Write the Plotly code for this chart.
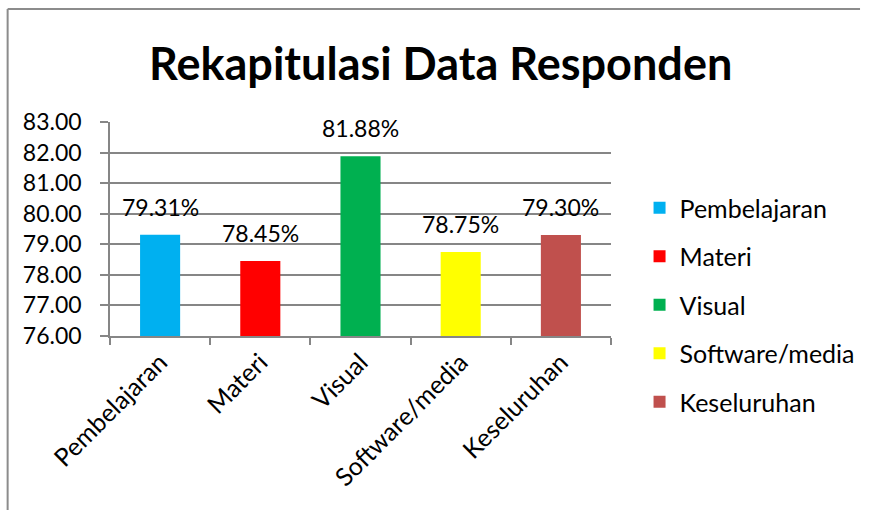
import plotly.graph_objects as go

categories = ["Pembelajaran", "Materi", "Visual", "Software/media", "Keseluruhan"]
values = [79.31, 78.45, 81.88, 78.75, 79.30]
value_labels = ["79.31%", "78.45%", "81.88%", "78.75%", "79.30%"]
colors = ["#00B0F0", "#FF0000", "#00B050", "#FFFF00", "#C0504D"]
y_ticks = [76, 77, 78, 79, 80, 81, 82, 83]

W, H = 872, 510
L, R, T, B = 110, 619, 122, 336  # plot area in pixels

FONT = "Lato, Carlito, Calibri, sans-serif"

fig = go.Figure()
for c, v, col in zip(categories, values, colors):
    fig.add_trace(go.Bar(
        x=[c], y=[v], name=c, marker=dict(color=col, line=dict(width=0)),
        width=0.4, legendgroup=c, showlegend=True, hoverinfo="skip",
    ))

pw, ph = R - L, B - T
def px(xp):
    return (xp - L) / pw
def py(yp):
    return (B - yp) / ph

annotations = []
for c, v, lab in zip(categories, values, value_labels):
    annotations.append(dict(
        x=c, y=v, xref="x", yref="y", text=lab, showarrow=False,
        yanchor="bottom", yshift=12, font=dict(family=FONT, size=23, color="#000000"),
    ))

annotations.append(dict(
    x=px(446), y=py(63), xref="paper", yref="paper", text="<b>Rekapitulasi Data Responden</b>",
    showarrow=False, xanchor="center", yanchor="middle",
    font=dict(family=FONT, size=45, color="#000000"),
))

shapes = [
    dict(type="line", xref="paper", yref="paper", x0=px(6), x1=px(872), y0=py(9), y1=py(9),
         line=dict(color="#8C8C8C", width=2)),
    dict(type="line", xref="paper", yref="paper", x0=px(6), x1=px(6), y0=py(9), y1=py(510),
         line=dict(color="#8C8C8C", width=2)),
]

fig.update_layout(
    width=W, height=H,
    margin=dict(l=L, r=W - R, t=T, b=H - B, pad=0),
    paper_bgcolor="white", plot_bgcolor="white",
    barmode="overlay",
    annotations=annotations,
    shapes=shapes,
    font=dict(family=FONT, size=25, color="#000000"),
    legend=dict(
        x=px(648), y=py(185), xanchor="left", yanchor="top",
        font=dict(family=FONT, size=25, color="#000000"),
        tracegroupgap=13, itemwidth=30, bgcolor="rgba(0,0,0,0)", maxheight=400,
    ),
    xaxis=dict(
        type="category", categoryorder="array", categoryarray=categories,
        showline=True, linecolor="#868686", linewidth=1.5,
        ticks="outside", tickson="boundaries", ticklen=7, tickcolor="#868686", tickwidth=1.5,
        tickangle=-45, tickfont=dict(family=FONT, size=25, color="#000000"),
        showgrid=False, range=[-0.5, 4.5],
    ),
    yaxis=dict(
        range=[76, 83], tickvals=y_ticks, tickformat=".2f",
        showline=True, linecolor="#868686", linewidth=1.5,
        ticks="outside", ticklen=8, tickcolor="#868686", tickwidth=1.5,
        showgrid=True, gridcolor="#868686", gridwidth=1.5,
        tickfont=dict(family=FONT, size=23, color="#000000"),
        ticklabelstandoff=14, zeroline=False,
    ),
)

fig.write_html("out.html", config={"displayModeBar": False},
               post_script="document.body.style.margin='0';")
